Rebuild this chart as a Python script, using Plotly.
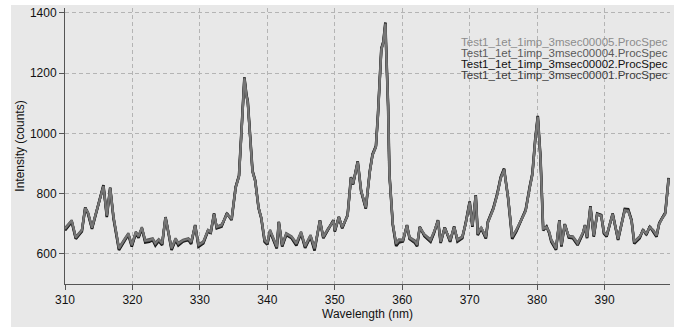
import plotly.graph_objects as go

wavelength = [310.0, 311.0, 311.6, 312.5, 313.0, 313.4, 314.0, 314.7, 315.7, 316.2,
              316.7, 317.2, 318.0, 318.9, 319.4, 319.9, 320.5, 320.9, 321.4, 321.9,
              322.5, 323.0, 323.4, 323.9, 324.4, 324.9, 325.8, 326.4, 326.8, 327.5,
              328.3, 328.7, 329.3, 329.8, 330.5, 331.2, 331.6, 332.1, 332.5, 333.2,
              334.0, 334.7, 335.3, 335.8, 336.2, 336.6, 336.9, 337.1, 337.8, 338.2,
              338.7, 339.1, 339.6, 340.0, 340.4, 341.4, 341.7, 342.2, 342.8, 343.6,
              344.3, 345.0, 345.6, 346.4, 347.0, 347.8, 348.3, 349.0, 349.8, 350.0,
              350.6, 351.1, 351.9, 352.4, 352.7, 353.4, 353.9, 354.6, 355.2, 355.6,
              356.1, 356.4, 356.9, 357.2, 357.5, 357.6, 357.9, 358.1, 358.6, 359.1,
              359.5, 360.1, 360.7, 361.1, 361.9, 362.2, 362.6, 363.3, 364.2, 364.7,
              365.3, 365.7, 366.3, 367.1, 367.7, 368.2, 368.9, 369.4, 370.0, 370.4,
              370.9, 371.2, 371.7, 372.4, 372.7, 373.5, 374.1, 374.6, 375.1, 375.7,
              376.3, 376.9, 377.7, 378.3, 378.9, 379.3, 379.7, 380.1, 380.5, 380.9,
              381.4, 381.8, 382.1, 382.8, 383.3, 383.6, 384.1, 384.7, 385.3, 386.0,
              386.8, 387.1, 387.4, 387.9, 388.4, 388.9, 389.5, 389.9, 390.3, 391.2,
              392.0, 393.0, 393.5, 394.0, 394.4, 395.2, 395.7, 396.2, 396.7, 397.2,
              397.7, 398.1, 398.6, 399.0, 399.5]

spec_00005 = [683, 710, 654, 678, 752, 738, 687, 743, 825, 727,
              818, 721, 618, 650, 667, 629, 672, 658, 687, 643,
              645, 650, 634, 647, 634, 721, 618, 650, 634, 645,
              650, 639, 694, 629, 639, 678, 672, 732, 689, 694,
              732, 716, 820, 858, 1016, 1183, 1126, 1104, 874, 842,
              754, 721, 645, 636, 678, 623, 705, 629, 667, 656,
              634, 672, 625, 661, 618, 710, 656, 683, 710, 678,
              721, 689, 727, 852, 834, 905, 812, 754, 874, 929,
              956, 1060, 1279, 1301, 1364, 1290, 1093, 864, 700, 634,
              645, 645, 694, 653, 641, 630, 689, 663, 645, 672,
              710, 640, 686, 645, 689, 646, 656, 700, 771, 694,
              793, 667, 689, 656, 705, 749, 798, 852, 880, 787,
              656, 678, 716, 743, 820, 864, 973, 1055, 918, 683,
              689, 672, 645, 618, 710, 629, 697, 658, 656, 634,
              672, 694, 656, 756, 661, 732, 727, 672, 661, 732,
              650, 745, 743, 710, 639, 656, 678, 667, 689, 678,
              661, 700, 721, 734, 850]

spec_00004 = [686, 712, 657, 680, 750, 740, 690, 745, 822, 730,
              815, 724, 621, 652, 669, 632, 674, 661, 689, 646,
              648, 652, 637, 649, 637, 718, 621, 652, 637, 647,
              652, 642, 691, 632, 641, 680, 675, 729, 691, 697,
              729, 718, 817, 855, 1012, 1178, 1122, 1100, 871, 840,
              752, 719, 648, 639, 680, 626, 702, 632, 669, 658,
              637, 674, 628, 663, 621, 707, 658, 685, 708, 680,
              719, 691, 725, 849, 832, 902, 810, 756, 871, 926,
              953, 1056, 1275, 1298, 1360, 1287, 1090, 861, 702, 637,
              648, 647, 691, 655, 644, 633, 686, 665, 648, 674,
              707, 643, 684, 648, 687, 649, 658, 698, 768, 696,
              790, 670, 687, 658, 703, 747, 795, 849, 877, 785,
              659, 680, 714, 741, 817, 861, 970, 1051, 915, 686,
              687, 674, 648, 621, 707, 632, 694, 660, 658, 637,
              670, 691, 658, 752, 663, 729, 725, 674, 663, 729,
              652, 742, 741, 708, 642, 658, 676, 669, 687, 680,
              663, 698, 719, 732, 846]

spec_00002 = [678, 706, 650, 674, 754, 734, 683, 740, 828, 722,
              820, 716, 613, 646, 663, 624, 668, 653, 684, 638,
              640, 646, 628, 643, 629, 722, 613, 646, 628, 641,
              646, 633, 696, 624, 635, 676, 668, 734, 685, 690,
              735, 712, 822, 860, 1018, 1186, 1128, 1106, 876, 844,
              752, 718, 640, 631, 674, 618, 706, 624, 663, 652,
              628, 668, 620, 657, 611, 712, 652, 681, 712, 674,
              723, 685, 729, 855, 830, 907, 808, 750, 876, 931,
              958, 1062, 1282, 1304, 1368, 1292, 1095, 866, 696, 626,
              638, 641, 696, 649, 636, 625, 690, 659, 640, 668,
              712, 636, 688, 640, 691, 641, 652, 702, 774, 690,
              795, 662, 685, 651, 707, 752, 801, 855, 883, 784,
              650, 674, 719, 746, 823, 867, 976, 1058, 920, 678,
              691, 668, 640, 613, 712, 624, 699, 654, 652, 629,
              668, 696, 652, 758, 657, 734, 729, 668, 657, 734,
              646, 749, 748, 712, 634, 652, 680, 663, 691, 676,
              657, 702, 723, 737, 852]

spec_00001 = [681, 708, 652, 676, 753, 736, 685, 742, 826, 725,
              819, 719, 616, 648, 665, 627, 670, 656, 686, 641,
              643, 648, 631, 645, 632, 722, 616, 648, 631, 643,
              648, 636, 695, 627, 637, 677, 670, 733, 687, 692,
              733, 714, 821, 859, 1017, 1185, 1127, 1105, 875, 843,
              753, 720, 643, 633, 676, 620, 706, 627, 665, 654,
              631, 670, 622, 659, 615, 711, 654, 682, 711, 676,
              722, 687, 728, 853, 832, 906, 810, 752, 875, 930,
              957, 1061, 1281, 1303, 1366, 1291, 1094, 865, 698, 630,
              641, 643, 695, 651, 638, 627, 689, 661, 642, 670,
              711, 638, 687, 642, 690, 643, 654, 701, 772, 692,
              794, 664, 687, 653, 706, 750, 800, 853, 881, 786,
              653, 676, 717, 745, 821, 866, 975, 1056, 919, 681,
              690, 670, 643, 616, 711, 627, 698, 656, 654, 631,
              670, 695, 654, 757, 659, 733, 728, 670, 659, 733,
              648, 747, 746, 711, 636, 654, 679, 665, 690, 677,
              659, 701, 722, 736, 851]

series_names = ["Test1_1et_1imp_3msec00005.ProcSpec",
                "Test1_1et_1imp_3msec00004.ProcSpec",
                "Test1_1et_1imp_3msec00002.ProcSpec",
                "Test1_1et_1imp_3msec00001.ProcSpec"]
series_values = [spec_00005, spec_00004, spec_00002, spec_00001]
series_colors = ["#767676", "#555555", "#111111", "#333333"]
label_colors = ["#8c8c8c", "#5a5a5a", "#111111", "#3a3a3a"]

x_ticks = [310, 320, 330, 340, 350, 360, 370, 380, 390]
y_ticks = [600, 800, 1000, 1200, 1400]

fig = go.Figure()
# draw dark series first, lightest gray last (on top)
for idx, width in zip([2, 3, 1, 0], [2.6, 2.4, 2.2, 2.0]):
    fig.add_trace(go.Scatter(
        x=wavelength, y=series_values[idx], mode="lines",
        name=series_names[idx],
        line=dict(color=series_colors[idx], width=width),
        showlegend=False, hoverinfo="skip"))

L, R, T, B = 65, 16, 8, 43
W, H = 686, 327
pw, ph = W - L - R, H - T - B

# gray panel behind the whole chart
fig.add_shape(type="rect", xref="paper", yref="paper", layer="below",
              x0=(11 - L) / pw, x1=(674 - L) / pw,
              y0=-B / ph - 0.01, y1=1 + (T - 5) / ph,
              fillcolor="#e8e8e8", line=dict(width=0))

legend_y_px = [42, 53, 64, 75]
for name, col, ypx in zip(series_names, label_colors, legend_y_px):
    fig.add_annotation(xref="paper", yref="paper", x=1.0, y=(H - B - ypx) / ph,
                       text=name, showarrow=False, xanchor="right", yanchor="middle",
                       font=dict(family="Liberation Sans, Arial", size=11.5, color=col))

axis_common = dict(
    showline=True, linecolor="#555555", linewidth=1,
    ticks="outside", ticklen=5, tickcolor="#555555",
    showgrid=True, gridcolor="#b4b4b4", griddash="4px,3px", gridwidth=1,
    zeroline=False,
    tickfont=dict(family="Liberation Sans, Arial", size=12, color="#111111"),
)

fig.update_xaxes(range=[310, 399.7], tickvals=x_ticks, mirror=False,
                 title=dict(text="Wavelength (nm)", standoff=3,
                            font=dict(family="Liberation Sans, Arial", size=12, color="#111111")),
                 **axis_common)
fig.update_yaxes(range=[500, 1416], tickvals=y_ticks,
                 title=dict(text="Intensity (counts)", standoff=2,
                            font=dict(family="Liberation Sans, Arial", size=12, color="#111111")),
                 **axis_common)

fig.update_layout(
    width=W, height=H,
    margin=dict(l=L, r=R, t=T, b=B, autoexpand=False),
    paper_bgcolor="white", plot_bgcolor="#e8e8e8",
    showlegend=False,
)

fig.write_html("out.html")
